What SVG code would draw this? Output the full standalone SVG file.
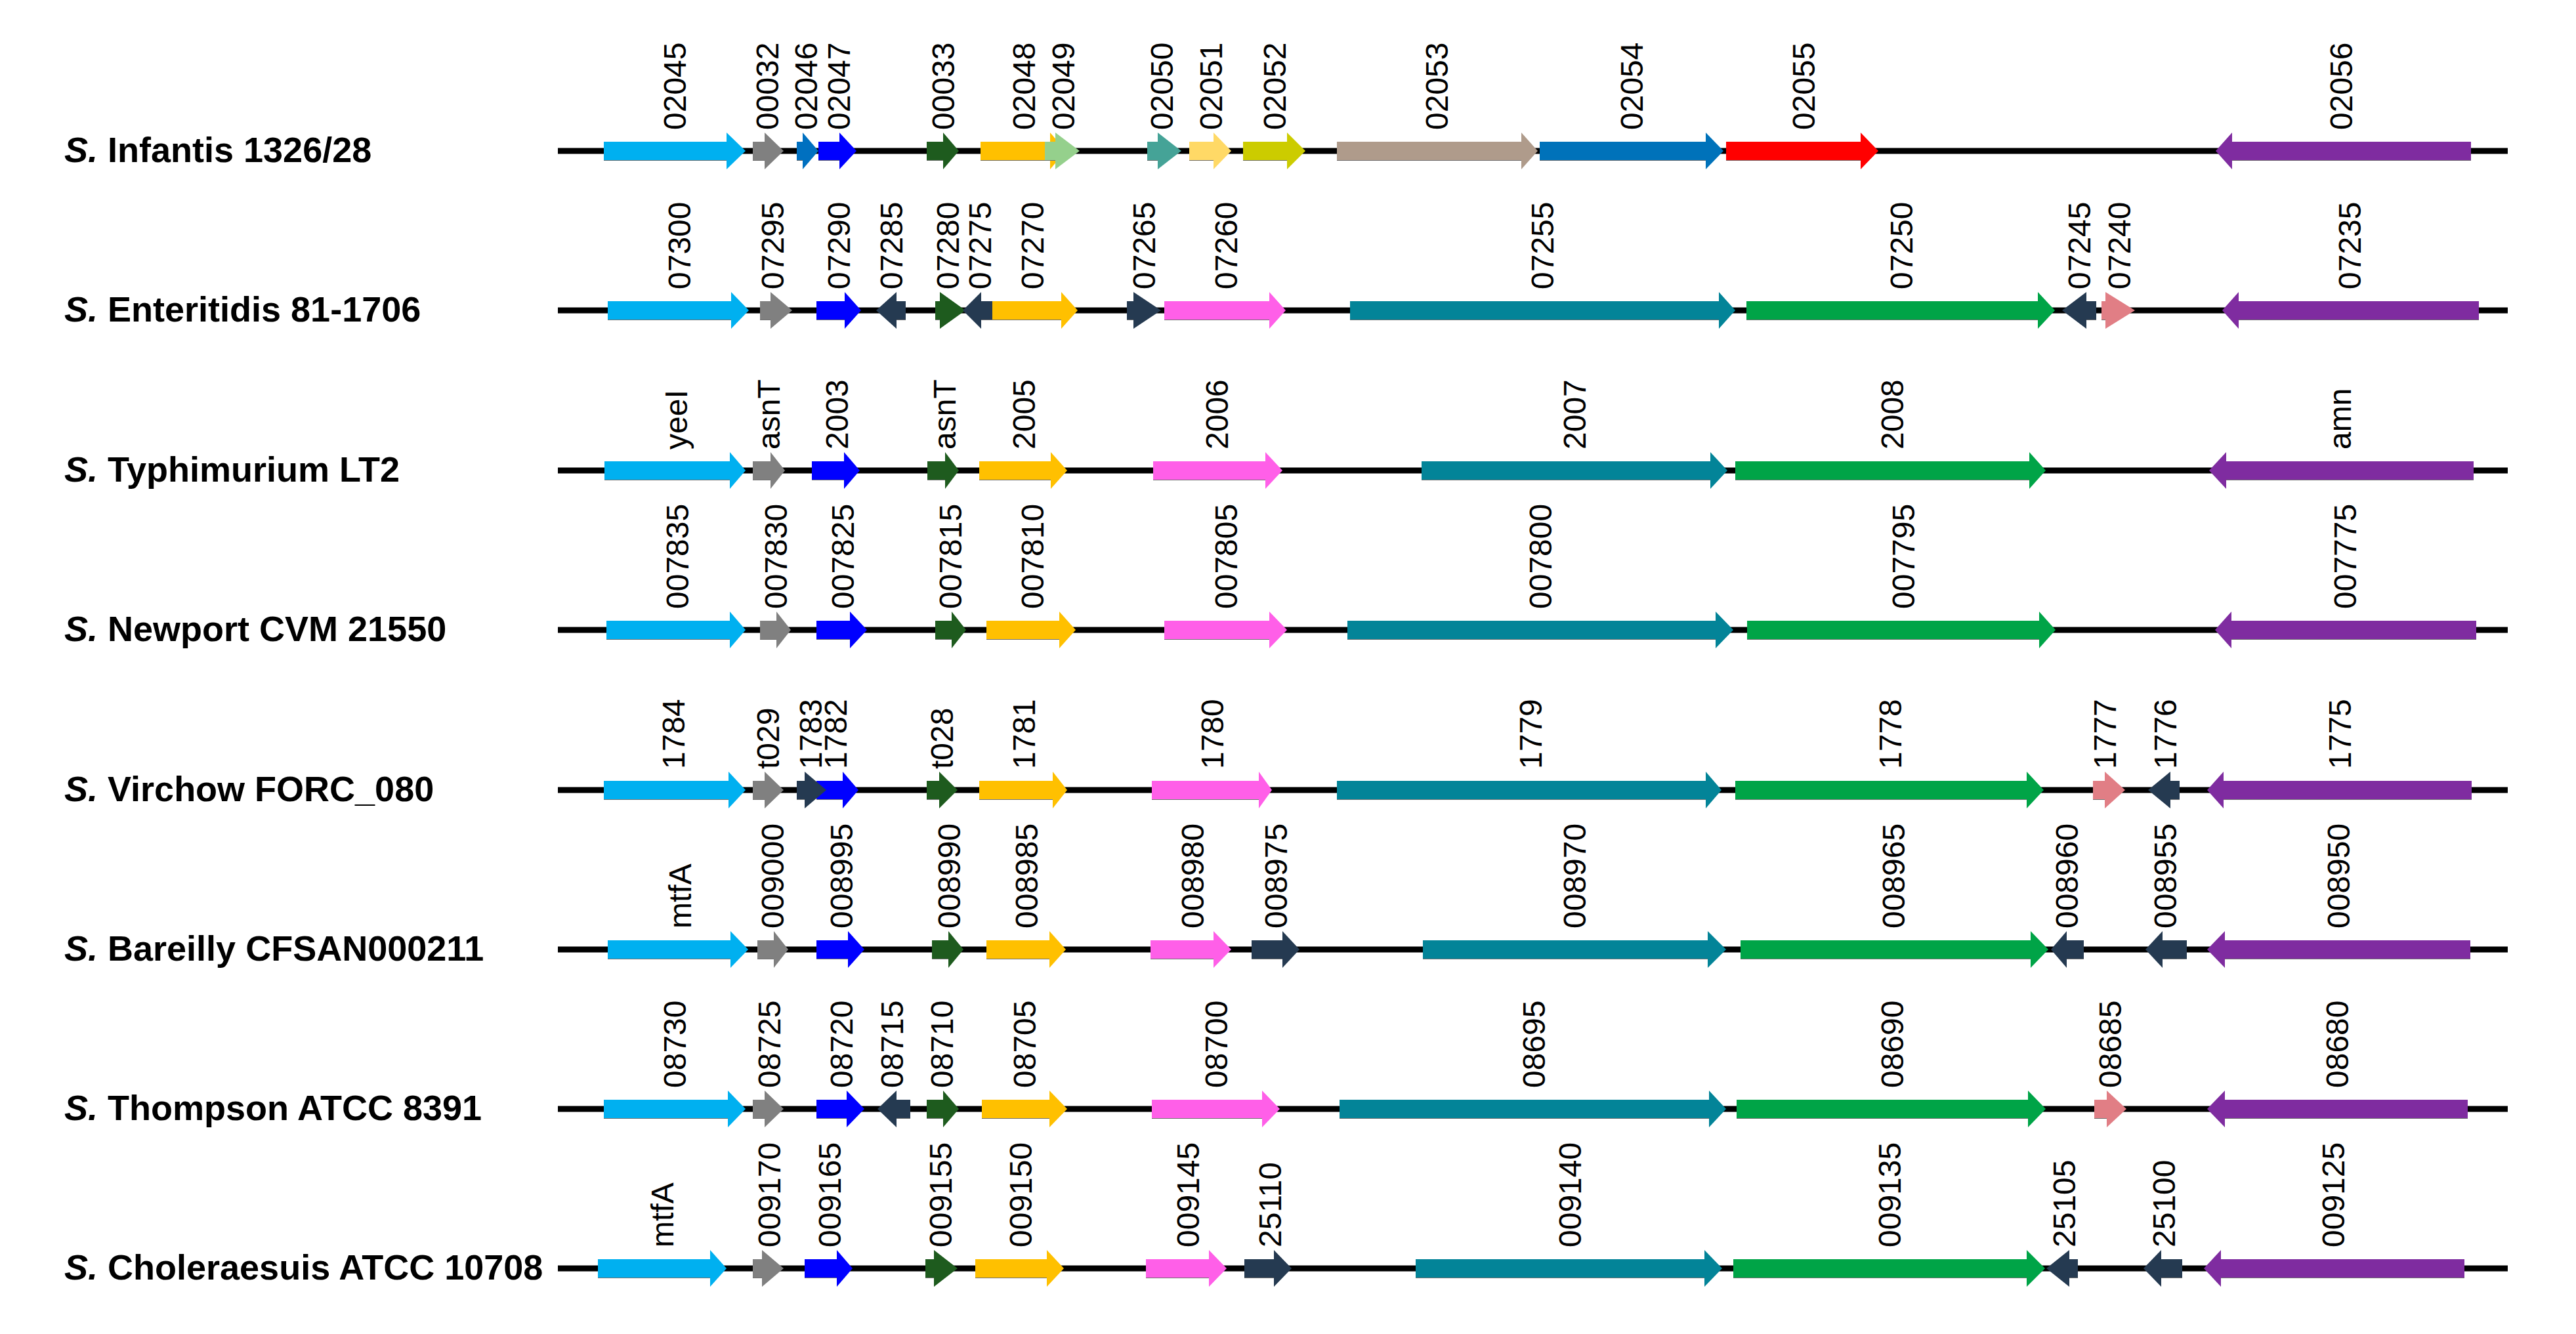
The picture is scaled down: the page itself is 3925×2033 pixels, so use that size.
<svg xmlns="http://www.w3.org/2000/svg" width="3925" height="2033" viewBox="0 0 3925 2033">
<style>
.bg{fill:#fff}
.bb{stroke:#000;stroke-width:9;fill:none}
.sh{fill:#707070}
.lb{font-family:"Liberation Sans",Arial,sans-serif;font-size:48px;fill:#000}
.sp{font-family:"Liberation Sans",Arial,sans-serif;font-size:54px;font-weight:bold;fill:#000}
.cy{fill:#00B0F0}.gy{fill:#808080}.b1{fill:#0070C0}.bl{fill:#0000FF}.dg{fill:#1E5B1E}
.or{fill:#FFC000}.lg{fill:#95D08C}.tq{fill:#45A397}.ly{fill:#FFD966}.yg{fill:#CCCC00}
.tn{fill:#AF9B8B}.b2{fill:#0072BA}.rd{fill:#FF0000}.pu{fill:#7F2CA0}.sl{fill:#253A51}
.pk{fill:#FF5FE8}.tl{fill:#038498}.gn{fill:#00A447}.sa{fill:#E17E85}
</style>
<rect class="bg" x="0" y="0" width="3925" height="2033"/>

<g id="connectors">
<line class="bb" x1="850" y1="230" x2="3821" y2="230"/>
<line class="bb" x1="850" y1="473" x2="3821" y2="473"/>
<line class="bb" x1="850" y1="717" x2="3821" y2="717"/>
<line class="bb" x1="850" y1="960" x2="3821" y2="960"/>
<line class="bb" x1="850" y1="1204" x2="3821" y2="1204"/>
<line class="bb" x1="850" y1="1447" x2="3821" y2="1447"/>
<line class="bb" x1="850" y1="1690" x2="3821" y2="1690"/>
<line class="bb" x1="850" y1="1933" x2="3821" y2="1933"/>
</g>

<g id="strain-labels">
<text id="s1" class="sp" x="98" y="247"><tspan font-style="italic">S.</tspan> Infantis 1326/28</text>
<text id="s2" class="sp" x="98" y="490"><tspan font-style="italic">S.</tspan> Enteritidis 81-1706</text>
<text id="s3" class="sp" x="98" y="734"><tspan font-style="italic">S.</tspan> Typhimurium LT2</text>
<text id="s4" class="sp" x="98" y="977"><tspan font-style="italic">S.</tspan> Newport CVM 21550</text>
<text id="s5" class="sp" x="98" y="1221"><tspan font-style="italic">S.</tspan> Virchow FORC_080</text>
<text id="s6" class="sp" x="98" y="1464"><tspan font-style="italic">S.</tspan> Bareilly CFSAN000211</text>
<text id="s7" class="sp" x="98" y="1707"><tspan font-style="italic">S.</tspan> Thompson ATCC 8391</text>
<text id="s8" class="sp" x="98" y="1950"><tspan font-style="italic">S.</tspan> Choleraesuis ATCC 10708</text>
</g>

<!-- Row 1 -->
<g id="row1" transform="translate(0,230)">
<g id="r1-02045"><rect class="sh" x="920" y="11" width="187" height="4"/><polygon class="cy" points="920,-14 1107,-14 1107,-28 1136,0 1107,28 1107,14 920,14"/><text class="lb" transform="translate(1045,-32) rotate(-90)">02045</text></g>
<g id="r1-00032"><rect class="sh" x="1147" y="11" width="18" height="4"/><polygon class="gy" points="1147,-14 1165,-14 1165,-28 1194,0 1165,28 1165,14 1147,14"/><text class="lb" transform="translate(1186,-32) rotate(-90)">00032</text></g>
<g id="r1-02046"><rect class="sh" x="1214" y="11" width="9" height="4"/><polygon class="b1" points="1214,-14 1223,-14 1223,-28 1247,0 1223,28 1223,14 1214,14"/><text class="lb" transform="translate(1245,-32) rotate(-90)">02046</text></g>
<g id="r1-02047"><rect class="sh" x="1247" y="11" width="32" height="4"/><polygon class="bl" points="1247,-14 1279,-14 1279,-28 1305,0 1279,28 1279,14 1247,14"/><text class="lb" transform="translate(1295,-32) rotate(-90)">02047</text></g>
<g id="r1-00033"><rect class="sh" x="1412" y="11" width="25" height="4"/><polygon class="dg" points="1412,-14 1437,-14 1437,-28 1461,0 1437,28 1437,14 1412,14"/><text class="lb" transform="translate(1454,-32) rotate(-90)">00033</text></g>
<g id="r1-02048"><rect class="sh" x="1494" y="11" width="106" height="4"/><polygon class="or" points="1494,-14 1600,-14 1600,-28 1624,0 1600,28 1600,14 1494,14"/><text class="lb" transform="translate(1577,-32) rotate(-90)">02048</text></g>
<g id="r1-02049"><rect class="sh" x="1592" y="11" width="16" height="4"/><polygon class="lg" points="1592,-14 1608,-14 1608,-28 1645,0 1608,28 1608,14 1592,14"/><text class="lb" transform="translate(1637,-32) rotate(-90)">02049</text></g>
<g id="r1-02050"><rect class="sh" x="1748" y="11" width="16" height="4"/><polygon class="tq" points="1748,-14 1764,-14 1764,-28 1800,0 1764,28 1764,14 1748,14"/><text class="lb" transform="translate(1787,-32) rotate(-90)">02050</text></g>
<g id="r1-02051"><rect class="sh" x="1812" y="11" width="37" height="4"/><polygon class="ly" points="1812,-14 1849,-14 1849,-28 1876,0 1849,28 1849,14 1812,14"/><text class="lb" transform="translate(1862,-32) rotate(-90)">02051</text></g>
<g id="r1-02052"><rect class="sh" x="1894" y="11" width="67" height="4"/><polygon class="yg" points="1894,-14 1961,-14 1961,-28 1989,0 1961,28 1961,14 1894,14"/><text class="lb" transform="translate(1959,-32) rotate(-90)">02052</text></g>
<g id="r1-02053"><rect class="sh" x="2037" y="11" width="281" height="4"/><polygon class="tn" points="2037,-14 2318,-14 2318,-28 2343,0 2318,28 2318,14 2037,14"/><text class="lb" transform="translate(2206,-32) rotate(-90)">02053</text></g>
<g id="r1-02054"><rect class="sh" x="2346" y="11" width="253" height="4"/><polygon class="b2" points="2346,-14 2599,-14 2599,-28 2626,0 2599,28 2599,14 2346,14"/><text class="lb" transform="translate(2503,-32) rotate(-90)">02054</text></g>
<g id="r1-02055"><rect class="sh" x="2630" y="11" width="205" height="4"/><polygon class="rd" points="2630,-14 2835,-14 2835,-28 2862,0 2835,28 2835,14 2630,14"/><text class="lb" transform="translate(2765,-32) rotate(-90)">02055</text></g>
<g id="r1-02056"><rect class="sh" x="3401" y="11" width="364" height="4"/><polygon class="pu" points="3765,-14 3401,-14 3401,-28 3376,0 3401,28 3401,14 3765,14"/><text class="lb" transform="translate(3584,-32) rotate(-90)">02056</text></g>
</g>

<!-- Row 2 -->
<g id="row2" transform="translate(0,473)">
<g id="r2-07300"><rect class="sh" x="926" y="11" width="188" height="4"/><polygon class="cy" points="926,-14 1114,-14 1114,-28 1141,0 1114,28 1114,14 926,14"/><text class="lb" transform="translate(1052,-32) rotate(-90)">07300</text></g>
<g id="r2-07295"><rect class="sh" x="1158" y="11" width="16" height="4"/><polygon class="gy" points="1158,-14 1174,-14 1174,-28 1207,0 1174,28 1174,14 1158,14"/><text class="lb" transform="translate(1194,-32) rotate(-90)">07295</text></g>
<g id="r2-07290"><rect class="sh" x="1244" y="11" width="43" height="4"/><polygon class="bl" points="1244,-14 1287,-14 1287,-28 1312,0 1287,28 1287,14 1244,14"/><text class="lb" transform="translate(1295,-32) rotate(-90)">07290</text></g>
<g id="r2-07285"><rect class="sh" x="1366" y="11" width="14" height="4"/><polygon class="sl" points="1380,-14 1366,-14 1366,-28 1335,0 1366,28 1366,14 1380,14"/><text class="lb" transform="translate(1375,-32) rotate(-90)">07285</text></g>
<g id="r2-07280"><rect class="sh" x="1425" y="11" width="7" height="4"/><polygon class="dg" points="1425,-14 1432,-14 1432,-28 1471,0 1432,28 1432,14 1425,14"/><text class="lb" transform="translate(1461,-32) rotate(-90)">07280</text></g>
<g id="r2-07275"><rect class="sh" x="1495" y="11" width="17" height="4"/><polygon class="sl" points="1512,-14 1495,-14 1495,-28 1467,0 1495,28 1495,14 1512,14"/><text class="lb" transform="translate(1510,-32) rotate(-90)">07275</text></g>
<g id="r2-07270"><rect class="sh" x="1512" y="11" width="105" height="4"/><polygon class="or" points="1512,-14 1617,-14 1617,-28 1642,0 1617,28 1617,14 1512,14"/><text class="lb" transform="translate(1590,-32) rotate(-90)">07270</text></g>
<g id="r2-07265"><rect class="sh" x="1717" y="11" width="10" height="4"/><polygon class="sl" points="1717,-14 1727,-14 1727,-28 1769,0 1727,28 1727,14 1717,14"/><text class="lb" transform="translate(1760,-32) rotate(-90)">07265</text></g>
<g id="r2-07260"><rect class="sh" x="1774" y="11" width="160" height="4"/><polygon class="pk" points="1774,-14 1934,-14 1934,-28 1959,0 1934,28 1934,14 1774,14"/><text class="lb" transform="translate(1885,-32) rotate(-90)">07260</text></g>
<g id="r2-07255"><rect class="sh" x="2057" y="11" width="562" height="4"/><polygon class="tl" points="2057,-14 2619,-14 2619,-28 2644,0 2619,28 2619,14 2057,14"/><text class="lb" transform="translate(2367,-32) rotate(-90)">07255</text></g>
<g id="r2-07250"><rect class="sh" x="2661" y="11" width="444" height="4"/><polygon class="gn" points="2661,-14 3105,-14 3105,-28 3131,0 3105,28 3105,14 2661,14"/><text class="lb" transform="translate(2914,-32) rotate(-90)">07250</text></g>
<g id="r2-07245"><rect class="sh" x="3179" y="11" width="15" height="4"/><polygon class="sl" points="3194,-14 3179,-14 3179,-28 3142,0 3179,28 3179,14 3194,14"/><text class="lb" transform="translate(3185,-32) rotate(-90)">07245</text></g>
<g id="r2-07240"><rect class="sh" x="3202" y="11" width="6" height="4"/><polygon class="sa" points="3202,-14 3208,-14 3208,-28 3253,0 3208,28 3208,14 3202,14"/><text class="lb" transform="translate(3246,-32) rotate(-90)">07240</text></g>
<g id="r2-07235"><rect class="sh" x="3411" y="11" width="366" height="4"/><polygon class="pu" points="3777,-14 3411,-14 3411,-28 3386,0 3411,28 3411,14 3777,14"/><text class="lb" transform="translate(3597,-32) rotate(-90)">07235</text></g>
</g>

<!-- Row 3 -->
<g id="row3" transform="translate(0,717)">
<g id="r3-yeeI"><rect class="sh" x="921" y="11" width="191" height="4"/><polygon class="cy" points="921,-14 1112,-14 1112,-28 1136,0 1112,28 1112,14 921,14"/><text class="lb" transform="translate(1047,-32) rotate(-90)">yeeI</text></g>
<g id="r3-asnT-a"><rect class="sh" x="1147" y="11" width="27" height="4"/><polygon class="gy" points="1147,-14 1174,-14 1174,-28 1196,0 1174,28 1174,14 1147,14"/><text class="lb" transform="translate(1188,-32) rotate(-90)">asnT</text></g>
<g id="r3-2003"><rect class="sh" x="1237" y="11" width="49" height="4"/><polygon class="bl" points="1237,-14 1286,-14 1286,-28 1310,0 1286,28 1286,14 1237,14"/><text class="lb" transform="translate(1292,-32) rotate(-90)">2003</text></g>
<g id="r3-asnT-b"><rect class="sh" x="1413" y="11" width="27" height="4"/><polygon class="dg" points="1413,-14 1440,-14 1440,-28 1461,0 1440,28 1440,14 1413,14"/><text class="lb" transform="translate(1456,-32) rotate(-90)">asnT</text></g>
<g id="r3-2005"><rect class="sh" x="1492" y="11" width="109" height="4"/><polygon class="or" points="1492,-14 1601,-14 1601,-28 1626,0 1601,28 1601,14 1492,14"/><text class="lb" transform="translate(1577,-32) rotate(-90)">2005</text></g>
<g id="r3-2006"><rect class="sh" x="1757" y="11" width="171" height="4"/><polygon class="pk" points="1757,-14 1928,-14 1928,-28 1954,0 1928,28 1928,14 1757,14"/><text class="lb" transform="translate(1871,-32) rotate(-90)">2006</text></g>
<g id="r3-2007"><rect class="sh" x="2166" y="11" width="440" height="4"/><polygon class="tl" points="2166,-14 2606,-14 2606,-28 2632,0 2606,28 2606,14 2166,14"/><text class="lb" transform="translate(2416,-32) rotate(-90)">2007</text></g>
<g id="r3-2008"><rect class="sh" x="2644" y="11" width="448" height="4"/><polygon class="gn" points="2644,-14 3092,-14 3092,-28 3117,0 3092,28 3092,14 2644,14"/><text class="lb" transform="translate(2900,-32) rotate(-90)">2008</text></g>
<g id="r3-amn"><rect class="sh" x="3392" y="11" width="377" height="4"/><polygon class="pu" points="3769,-14 3392,-14 3392,-28 3366,0 3392,28 3392,14 3769,14"/><text class="lb" transform="translate(3582,-32) rotate(-90)">amn</text></g>
</g>

<!-- Row 4 -->
<g id="row4" transform="translate(0,960)">
<g id="r4-007835"><rect class="sh" x="924" y="11" width="188" height="4"/><polygon class="cy" points="924,-14 1112,-14 1112,-28 1136,0 1112,28 1112,14 924,14"/><text class="lb" transform="translate(1049,-32) rotate(-90)">007835</text></g>
<g id="r4-007830"><rect class="sh" x="1158" y="11" width="25" height="4"/><polygon class="gy" points="1158,-14 1183,-14 1183,-28 1205,0 1183,28 1183,14 1158,14"/><text class="lb" transform="translate(1199,-32) rotate(-90)">007830</text></g>
<g id="r4-007825"><rect class="sh" x="1244" y="11" width="51" height="4"/><polygon class="bl" points="1244,-14 1295,-14 1295,-28 1321,0 1295,28 1295,14 1244,14"/><text class="lb" transform="translate(1301,-32) rotate(-90)">007825</text></g>
<g id="r4-007815"><rect class="sh" x="1425" y="11" width="25" height="4"/><polygon class="dg" points="1425,-14 1450,-14 1450,-28 1472,0 1450,28 1450,14 1425,14"/><text class="lb" transform="translate(1465,-32) rotate(-90)">007815</text></g>
<g id="r4-007810"><rect class="sh" x="1503" y="11" width="111" height="4"/><polygon class="or" points="1503,-14 1614,-14 1614,-28 1639,0 1614,28 1614,14 1503,14"/><text class="lb" transform="translate(1590,-32) rotate(-90)">007810</text></g>
<g id="r4-007805"><rect class="sh" x="1774" y="11" width="160" height="4"/><polygon class="pk" points="1774,-14 1934,-14 1934,-28 1961,0 1934,28 1934,14 1774,14"/><text class="lb" transform="translate(1885,-32) rotate(-90)">007805</text></g>
<g id="r4-007800"><rect class="sh" x="2053" y="11" width="561" height="4"/><polygon class="tl" points="2053,-14 2614,-14 2614,-28 2641,0 2614,28 2614,14 2053,14"/><text class="lb" transform="translate(2364,-32) rotate(-90)">007800</text></g>
<g id="r4-007795"><rect class="sh" x="2662" y="11" width="445" height="4"/><polygon class="gn" points="2662,-14 3107,-14 3107,-28 3132,0 3107,28 3107,14 2662,14"/><text class="lb" transform="translate(2917,-32) rotate(-90)">007795</text></g>
<g id="r4-007775"><rect class="sh" x="3400" y="11" width="373" height="4"/><polygon class="pu" points="3773,-14 3400,-14 3400,-28 3375,0 3400,28 3400,14 3773,14"/><text class="lb" transform="translate(3590,-32) rotate(-90)">007775</text></g>
</g>

<!-- Row 5 -->
<g id="row5" transform="translate(0,1204)">
<g id="r5-1784"><rect class="sh" x="920" y="11" width="190" height="4"/><polygon class="cy" points="920,-14 1110,-14 1110,-28 1136,0 1110,28 1110,14 920,14"/><text class="lb" transform="translate(1043,-32) rotate(-90)">1784</text></g>
<g id="r5-t029"><rect class="sh" x="1147" y="11" width="18" height="4"/><polygon class="gy" points="1147,-14 1165,-14 1165,-28 1194,0 1165,28 1165,14 1147,14"/><text class="lb" transform="translate(1187,-32) rotate(-90)">t029</text></g>
<g id="r5-1782"><rect class="sh" x="1244" y="11" width="40" height="4"/><polygon class="bl" points="1244,-14 1284,-14 1284,-28 1308,0 1284,28 1284,14 1244,14"/><text class="lb" transform="translate(1290,-32) rotate(-90)">1782</text></g>
<g id="r5-1783"><rect class="sh" x="1214" y="11" width="12" height="4"/><polygon class="sl" points="1214,-14 1226,-14 1226,-28 1259,0 1226,28 1226,14 1214,14"/><text class="lb" transform="translate(1252,-32) rotate(-90)">1783</text></g>
<g id="r5-t028"><rect class="sh" x="1412" y="11" width="19" height="4"/><polygon class="dg" points="1412,-14 1431,-14 1431,-28 1459,0 1431,28 1431,14 1412,14"/><text class="lb" transform="translate(1452,-32) rotate(-90)">t028</text></g>
<g id="r5-1781"><rect class="sh" x="1492" y="11" width="112" height="4"/><polygon class="or" points="1492,-14 1604,-14 1604,-28 1626,0 1604,28 1604,14 1492,14"/><text class="lb" transform="translate(1577,-32) rotate(-90)">1781</text></g>
<g id="r5-1780"><rect class="sh" x="1755" y="11" width="163" height="4"/><polygon class="pk" points="1755,-14 1918,-14 1918,-28 1938,0 1918,28 1918,14 1755,14"/><text class="lb" transform="translate(1864,-32) rotate(-90)">1780</text></g>
<g id="r5-1779"><rect class="sh" x="2037" y="11" width="562" height="4"/><polygon class="tl" points="2037,-14 2599,-14 2599,-28 2623,0 2599,28 2599,14 2037,14"/><text class="lb" transform="translate(2349,-32) rotate(-90)">1779</text></g>
<g id="r5-1778"><rect class="sh" x="2644" y="11" width="444" height="4"/><polygon class="gn" points="2644,-14 3088,-14 3088,-28 3114,0 3088,28 3088,14 2644,14"/><text class="lb" transform="translate(2897,-32) rotate(-90)">1778</text></g>
<g id="r5-1777"><rect class="sh" x="3189" y="11" width="18" height="4"/><polygon class="sa" points="3189,-14 3207,-14 3207,-28 3238,0 3207,28 3207,14 3189,14"/><text class="lb" transform="translate(3224,-32) rotate(-90)">1777</text></g>
<g id="r5-1776"><rect class="sh" x="3307" y="11" width="14" height="4"/><polygon class="sl" points="3321,-14 3307,-14 3307,-28 3273,0 3307,28 3307,14 3321,14"/><text class="lb" transform="translate(3316,-32) rotate(-90)">1776</text></g>
<g id="r5-1775"><rect class="sh" x="3388" y="11" width="378" height="4"/><polygon class="pu" points="3766,-14 3388,-14 3388,-28 3363,0 3388,28 3388,14 3766,14"/><text class="lb" transform="translate(3582,-32) rotate(-90)">1775</text></g>
</g>

<!-- Row 6 -->
<g id="row6" transform="translate(0,1447)">
<g id="r6-mtfA"><rect class="sh" x="926" y="11" width="187" height="4"/><polygon class="cy" points="926,-14 1113,-14 1113,-28 1140,0 1113,28 1113,14 926,14"/><text class="lb" transform="translate(1053,-32) rotate(-90)">mtfA</text></g>
<g id="r6-009000"><rect class="sh" x="1154" y="11" width="25" height="4"/><polygon class="gy" points="1154,-14 1179,-14 1179,-28 1201,0 1179,28 1179,14 1154,14"/><text class="lb" transform="translate(1194,-32) rotate(-90)">009000</text></g>
<g id="r6-008995"><rect class="sh" x="1244" y="11" width="48" height="4"/><polygon class="bl" points="1244,-14 1292,-14 1292,-28 1317,0 1292,28 1292,14 1244,14"/><text class="lb" transform="translate(1299,-32) rotate(-90)">008995</text></g>
<g id="r6-008990"><rect class="sh" x="1420" y="11" width="25" height="4"/><polygon class="dg" points="1420,-14 1445,-14 1445,-28 1468,0 1445,28 1445,14 1420,14"/><text class="lb" transform="translate(1463,-32) rotate(-90)">008990</text></g>
<g id="r6-008985"><rect class="sh" x="1503" y="11" width="96" height="4"/><polygon class="or" points="1503,-14 1599,-14 1599,-28 1624,0 1599,28 1599,14 1503,14"/><text class="lb" transform="translate(1581,-32) rotate(-90)">008985</text></g>
<g id="r6-008980"><rect class="sh" x="1753" y="11" width="96" height="4"/><polygon class="pk" points="1753,-14 1849,-14 1849,-28 1876,0 1849,28 1849,14 1753,14"/><text class="lb" transform="translate(1834,-32) rotate(-90)">008980</text></g>
<g id="r6-008975"><rect class="sh" x="1907" y="11" width="47" height="4"/><polygon class="sl" points="1907,-14 1954,-14 1954,-28 1980,0 1954,28 1954,14 1907,14"/><text class="lb" transform="translate(1961,-32) rotate(-90)">008975</text></g>
<g id="r6-008970"><rect class="sh" x="2168" y="11" width="434" height="4"/><polygon class="tl" points="2168,-14 2602,-14 2602,-28 2630,0 2602,28 2602,14 2168,14"/><text class="lb" transform="translate(2416,-32) rotate(-90)">008970</text></g>
<g id="r6-008965"><rect class="sh" x="2652" y="11" width="442" height="4"/><polygon class="gn" points="2652,-14 3094,-14 3094,-28 3121,0 3094,28 3094,14 2652,14"/><text class="lb" transform="translate(2902,-32) rotate(-90)">008965</text></g>
<g id="r6-008960"><rect class="sh" x="3149" y="11" width="26" height="4"/><polygon class="sl" points="3175,-14 3149,-14 3149,-28 3125,0 3149,28 3149,14 3175,14"/><text class="lb" transform="translate(3166,-32) rotate(-90)">008960</text></g>
<g id="r6-008955"><rect class="sh" x="3295" y="11" width="37" height="4"/><polygon class="sl" points="3332,-14 3295,-14 3295,-28 3269,0 3295,28 3295,14 3332,14"/><text class="lb" transform="translate(3316,-32) rotate(-90)">008955</text></g>
<g id="r6-008950"><rect class="sh" x="3390" y="11" width="374" height="4"/><polygon class="pu" points="3764,-14 3390,-14 3390,-28 3363,0 3390,28 3390,14 3764,14"/><text class="lb" transform="translate(3580,-32) rotate(-90)">008950</text></g>
</g>

<!-- Row 7 -->
<g id="row7" transform="translate(0,1690)">
<g id="r7-08730"><rect class="sh" x="920" y="11" width="189" height="4"/><polygon class="cy" points="920,-14 1109,-14 1109,-28 1136,0 1109,28 1109,14 920,14"/><text class="lb" transform="translate(1045,-32) rotate(-90)">08730</text></g>
<g id="r7-08725"><rect class="sh" x="1147" y="11" width="18" height="4"/><polygon class="gy" points="1147,-14 1165,-14 1165,-28 1194,0 1165,28 1165,14 1147,14"/><text class="lb" transform="translate(1189,-32) rotate(-90)">08725</text></g>
<g id="r7-08720"><rect class="sh" x="1244" y="11" width="46" height="4"/><polygon class="bl" points="1244,-14 1290,-14 1290,-28 1317,0 1290,28 1290,14 1244,14"/><text class="lb" transform="translate(1299,-32) rotate(-90)">08720</text></g>
<g id="r7-08715"><rect class="sh" x="1366" y="11" width="21" height="4"/><polygon class="sl" points="1387,-14 1366,-14 1366,-28 1337,0 1366,28 1366,14 1387,14"/><text class="lb" transform="translate(1376,-32) rotate(-90)">08715</text></g>
<g id="r7-08710"><rect class="sh" x="1412" y="11" width="25" height="4"/><polygon class="dg" points="1412,-14 1437,-14 1437,-28 1461,0 1437,28 1437,14 1412,14"/><text class="lb" transform="translate(1452,-32) rotate(-90)">08710</text></g>
<g id="r7-08705"><rect class="sh" x="1496" y="11" width="103" height="4"/><polygon class="or" points="1496,-14 1599,-14 1599,-28 1626,0 1599,28 1599,14 1496,14"/><text class="lb" transform="translate(1578,-32) rotate(-90)">08705</text></g>
<g id="r7-08700"><rect class="sh" x="1755" y="11" width="168" height="4"/><polygon class="pk" points="1755,-14 1923,-14 1923,-28 1950,0 1923,28 1923,14 1755,14"/><text class="lb" transform="translate(1870,-32) rotate(-90)">08700</text></g>
<g id="r7-08695"><rect class="sh" x="2041" y="11" width="563" height="4"/><polygon class="tl" points="2041,-14 2604,-14 2604,-28 2630,0 2604,28 2604,14 2041,14"/><text class="lb" transform="translate(2354,-32) rotate(-90)">08695</text></g>
<g id="r7-08690"><rect class="sh" x="2646" y="11" width="444" height="4"/><polygon class="gn" points="2646,-14 3090,-14 3090,-28 3117,0 3090,28 3090,14 2646,14"/><text class="lb" transform="translate(2900,-32) rotate(-90)">08690</text></g>
<g id="r7-08685"><rect class="sh" x="3191" y="11" width="19" height="4"/><polygon class="sa" points="3191,-14 3210,-14 3210,-28 3240,0 3210,28 3210,14 3191,14"/><text class="lb" transform="translate(3232,-32) rotate(-90)">08685</text></g>
<g id="r7-08680"><rect class="sh" x="3390" y="11" width="370" height="4"/><polygon class="pu" points="3760,-14 3390,-14 3390,-28 3363,0 3390,28 3390,14 3760,14"/><text class="lb" transform="translate(3578,-32) rotate(-90)">08680</text></g>
</g>

<!-- Row 8 -->
<g id="row8" transform="translate(0,1933)">
<g id="r8-mtfA"><rect class="sh" x="911" y="11" width="171" height="4"/><polygon class="cy" points="911,-14 1082,-14 1082,-28 1107,0 1082,28 1082,14 911,14"/><text class="lb" transform="translate(1026,-32) rotate(-90)">mtfA</text></g>
<g id="r8-009170"><rect class="sh" x="1147" y="11" width="14" height="4"/><polygon class="gy" points="1147,-14 1161,-14 1161,-28 1194,0 1161,28 1161,14 1147,14"/><text class="lb" transform="translate(1189,-32) rotate(-90)">009170</text></g>
<g id="r8-009165"><rect class="sh" x="1226" y="11" width="49" height="4"/><polygon class="bl" points="1226,-14 1275,-14 1275,-28 1299,0 1275,28 1275,14 1226,14"/><text class="lb" transform="translate(1281,-32) rotate(-90)">009165</text></g>
<g id="r8-009155"><rect class="sh" x="1410" y="11" width="13" height="4"/><polygon class="dg" points="1410,-14 1423,-14 1423,-28 1459,0 1423,28 1423,14 1410,14"/><text class="lb" transform="translate(1450,-32) rotate(-90)">009155</text></g>
<g id="r8-009150"><rect class="sh" x="1486" y="11" width="109" height="4"/><polygon class="or" points="1486,-14 1595,-14 1595,-28 1621,0 1595,28 1595,14 1486,14"/><text class="lb" transform="translate(1572,-32) rotate(-90)">009150</text></g>
<g id="r8-009145"><rect class="sh" x="1746" y="11" width="96" height="4"/><polygon class="pk" points="1746,-14 1842,-14 1842,-28 1869,0 1842,28 1842,14 1746,14"/><text class="lb" transform="translate(1827,-32) rotate(-90)">009145</text></g>
<g id="r8-25110"><rect class="sh" x="1896" y="11" width="45" height="4"/><polygon class="sl" points="1896,-14 1941,-14 1941,-28 1968,0 1941,28 1941,14 1896,14"/><text class="lb" transform="translate(1952,-32) rotate(-90)">25110</text></g>
<g id="r8-009140"><rect class="sh" x="2157" y="11" width="440" height="4"/><polygon class="tl" points="2157,-14 2597,-14 2597,-28 2624,0 2597,28 2597,14 2157,14"/><text class="lb" transform="translate(2409,-32) rotate(-90)">009140</text></g>
<g id="r8-009135"><rect class="sh" x="2641" y="11" width="447" height="4"/><polygon class="gn" points="2641,-14 3088,-14 3088,-28 3116,0 3088,28 3088,14 2641,14"/><text class="lb" transform="translate(2896,-32) rotate(-90)">009135</text></g>
<g id="r8-25105"><rect class="sh" x="3153" y="11" width="13" height="4"/><polygon class="sl" points="3166,-14 3153,-14 3153,-28 3118,0 3153,28 3153,14 3166,14"/><text class="lb" transform="translate(3162,-32) rotate(-90)">25105</text></g>
<g id="r8-25100"><rect class="sh" x="3293" y="11" width="32" height="4"/><polygon class="sl" points="3325,-14 3293,-14 3293,-28 3266,0 3293,28 3293,14 3325,14"/><text class="lb" transform="translate(3314,-32) rotate(-90)">25100</text></g>
<g id="r8-009125"><rect class="sh" x="3384" y="11" width="371" height="4"/><polygon class="pu" points="3755,-14 3384,-14 3384,-28 3358,0 3384,28 3384,14 3755,14"/><text class="lb" transform="translate(3572,-32) rotate(-90)">009125</text></g>
</g>
</svg>
